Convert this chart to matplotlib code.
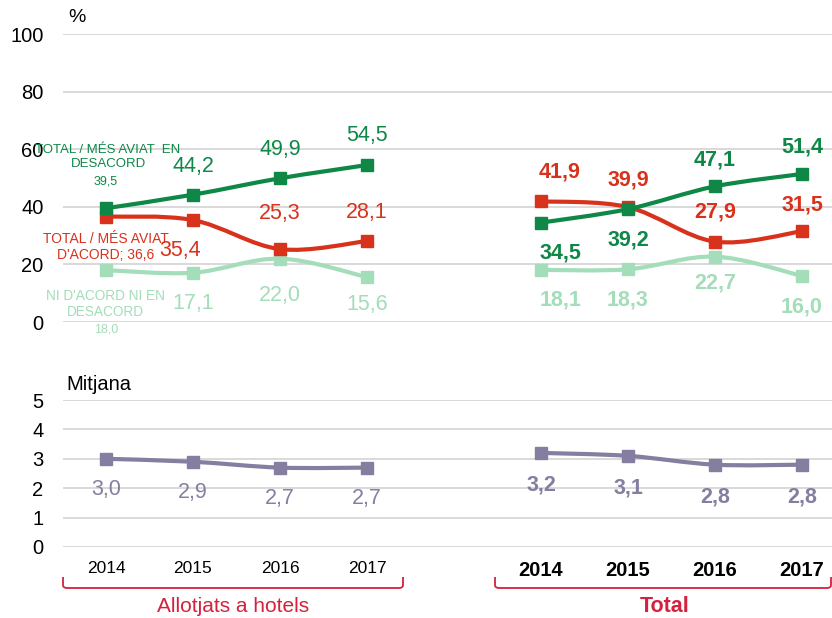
import matplotlib.pyplot as plt
from matplotlib.path import Path
from matplotlib.patches import PathPatch

plt.rcParams["font.family"] = ["Liberation Sans", "DejaVu Sans"]

W, H = 832, 618

years = ["2014", "2015", "2016", "2017"]
x_hotels = [0, 1, 2, 3]
x_total = [5, 6, 7, 8]

# Allotjats a hotels
hot_desacord = [39.5, 44.2, 49.9, 54.5]
hot_acord = [36.6, 35.4, 25.3, 28.1]
hot_ni = [18.0, 17.1, 22.0, 15.6]
hot_mitjana = [3.0, 2.9, 2.7, 2.7]

# Total
tot_desacord = [34.5, 39.2, 47.1, 51.4]
tot_acord = [41.9, 39.9, 27.9, 31.5]
tot_ni = [18.1, 18.3, 22.7, 16.0]
tot_mitjana = [3.2, 3.1, 2.8, 2.8]

C_DES = "#0e8747"
C_ACO = "#d8321c"
C_NI = "#a3ddb9"
C_MIT = "#857ea0"
C_BRK = "#d4213d"
C_GRID = "#d9d9d9"


def fx(px):
    return px / W


def fy(py):
    return 1 - py / H


def smooth_line(ax, xs, ys, color, lw=3.0):
    """Excel-style smoothed line: cubic Bezier through the points."""
    pts = list(zip(xs, ys))
    verts = [pts[0]]
    codes = [Path.MOVETO]
    n = len(pts)
    for i in range(n - 1):
        p0 = pts[i - 1] if i > 0 else pts[i]
        p1, p2 = pts[i], pts[i + 1]
        p3 = pts[i + 2] if i + 2 < n else pts[i + 1]
        c1 = (p1[0] + (p2[0] - p0[0]) / 6, p1[1] + (p2[1] - p0[1]) / 6)
        c2 = (p2[0] - (p3[0] - p1[0]) / 6, p2[1] - (p3[1] - p1[1]) / 6)
        verts += [c1, c2, p2]
        codes += [Path.CURVE4] * 3
    ax.add_patch(PathPatch(Path(verts, codes), fill=False, edgecolor=color,
                           lw=lw, capstyle="round", joinstyle="round", zorder=3))
    ax.plot(xs, ys, ls="none", marker="s", ms=8.2, color=color, zorder=4)


def labels(ax, xs, ys, offsets, color, bold, size=15.5):
    for x, y, off in zip(xs, ys, offsets):
        if off is None:
            continue
        ax.annotate(f"{y:.1f}".replace(".", ","), (x, y), xytext=off,
                    textcoords="offset pixels", ha="center", va="center",
                    color=color, fontsize=size,
                    fontweight="bold" if bold else "normal",
                    annotation_clip=False)


fig = plt.figure(figsize=(W / 100, H / 100), dpi=100)

xlim = ((63 - 106) / 87, (832 - 106) / 87)

# Percentages panel
ax = fig.add_axes([fx(63), fy(322), 1 - fx(63), fy(34) - fy(322)])
ax.set_xlim(*xlim)
ax.set_ylim(0, 100)
ax.set_yticks(range(0, 101, 20))
ax.grid(axis="y", color=C_GRID, lw=1.4)
ax.set_axisbelow(True)
ax.set_xticks([])
for s in ax.spines.values():
    s.set_visible(False)
ax.tick_params(axis="y", length=0, labelsize=14.5, pad=14)

for xs, ys, c in [(x_hotels, hot_ni, C_NI), (x_total, tot_ni, C_NI),
                  (x_hotels, hot_acord, C_ACO), (x_total, tot_acord, C_ACO),
                  (x_hotels, hot_desacord, C_DES), (x_total, tot_desacord, C_DES)]:
    smooth_line(ax, xs, ys, c)

labels(ax, x_hotels, hot_desacord, [None, (0, 28), (0, 29), (0, 30)], C_DES, False)
labels(ax, x_hotels, hot_acord, [None, (-13, -30), (0, 36), (0, 29)], C_ACO, False)
labels(ax, x_hotels, hot_ni, [None, (0, -31), (0, -37), (0, -27)], C_NI, False)
labels(ax, x_total, tot_desacord, [(19, -30), (0, -31), (0, 26), (0, 27)], C_DES, True)
labels(ax, x_total, tot_acord, [(19, 29), (0, 27), (0, 30), (0, 26)], C_ACO, True)
labels(ax, x_total, tot_ni, [(20, -30), (0, -31), (0, -26), (0, -31)], C_NI, True)

# series names next to the first hotels point
fig.text(fx(108), fy(157), "TOTAL / MÉS AVIAT  EN\nDESACORD", ha="center",
         va="center", color=C_DES, fontsize=9.5, linespacing=1.15)
fig.text(fx(106), fy(181), "39,5", ha="center", va="center", color=C_DES, fontsize=9)
fig.text(fx(106), fy(247), "TOTAL / MÉS AVIAT\nD'ACORD; 36,6", ha="center",
         va="center", color=C_ACO, fontsize=10, linespacing=1.1)
fig.text(fx(105), fy(304), "NI D'ACORD NI EN\nDESACORD", ha="center",
         va="center", color=C_NI, fontsize=9.8, linespacing=1.15)
fig.text(fx(106), fy(330), "18,0", ha="center", va="center", color=C_NI, fontsize=9)
fig.text(fx(77), fy(18), "%", ha="center", va="center", fontsize=14)

# Mean panel
bx = fig.add_axes([fx(63), fy(547), 1 - fx(63), fy(400) - fy(547)])
bx.set_xlim(*xlim)
bx.set_ylim(0, 5)
bx.set_yticks(range(0, 6))
bx.grid(axis="y", color=C_GRID, lw=1.4)
bx.set_axisbelow(True)
for s in bx.spines.values():
    s.set_visible(False)
bx.tick_params(axis="y", length=0, labelsize=14.5, pad=14)
bx.tick_params(axis="x", length=0, pad=10)
bx.set_xticks(x_hotels + x_total)
bx.set_xticklabels(years + years)
for i, t in enumerate(bx.get_xticklabels()):
    if i < 4:
        t.set_fontsize(12.5)
    else:
        t.set_fontsize(14.5)
        t.set_fontweight("bold")

smooth_line(bx, x_hotels, hot_mitjana, C_MIT)
smooth_line(bx, x_total, tot_mitjana, C_MIT)
labels(bx, x_hotels, hot_mitjana, [(0, -31)] * 4, C_MIT, False)
labels(bx, x_total, tot_mitjana, [(0, -32)] * 4, C_MIT, True)
fig.text(fx(99), fy(385), "Mitjana", ha="center", va="center", fontsize=14.5)

# group brackets under the year labels
ov = fig.add_axes([0, 0, 1, 1], zorder=-1)
ov.set_xlim(0, W)
ov.set_ylim(H, 0)
ov.axis("off")
for x0, x1 in [(63, 403), (495, 831)]:
    verts = [(x0, 577), (x0, 585), (x0, 588), (x0 + 4, 588), (x1 - 4, 588),
             (x1, 588), (x1, 585), (x1, 577)]
    codes = [Path.MOVETO, Path.LINETO, Path.CURVE3, Path.CURVE3, Path.LINETO,
             Path.CURVE3, Path.CURVE3, Path.LINETO]
    ov.add_patch(PathPatch(Path(verts, codes), fill=False, edgecolor=C_BRK, lw=1.3))
fig.text(fx(233), fy(607), "Allotjats a hotels", ha="center", va="center",
         color=C_BRK, fontsize=15)
fig.text(fx(665), fy(607), "Total", ha="center", va="center",
         color=C_BRK, fontsize=15.5, fontweight="bold")

fig.savefig("out.png", dpi=100)
